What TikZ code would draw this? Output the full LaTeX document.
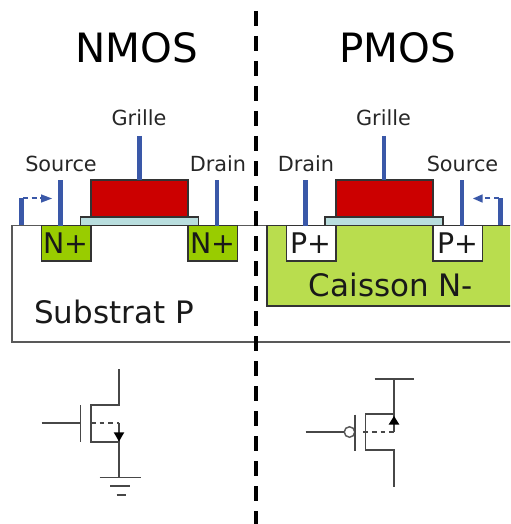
\documentclass[tikz,border=0pt]{standalone}
\usepackage{fontspec}
\setmainfont{DejaVu Sans}
\usetikzlibrary{arrows.meta}
\tikzset{
  x=0.75pt,y=-0.75pt,
  region/.style={draw=black!80,line width=0.8pt,inner sep=0pt,outer sep=0pt},
  bulk/.style={draw=black!65,line width=0.9pt},
  gatebox/.style={region,fill=gatered},
  oxide/.style={region,fill=oxidecol},
  dopedn/.style={region,fill=ngreen},
  dopedp/.style={region,fill=white},
  contact/.style={draw=contactblue,line width=3.7pt},
  flow/.style={draw=contactblue,line width=1.3pt,dash pattern=on 4pt off 2.5pt},
  headtip/.style={fill=contactblue,draw=none},
  termlabel/.style={text=black!85,font=\fontsize{15.6pt}{17pt}\selectfont,inner sep=0pt},
  dopelabel/.style={text=black!90,font=\fontsize{21.3pt}{23pt}\selectfont,inner sep=0pt},
  bulklabel/.style={text=black!90,font=\fontsize{23.2pt}{25pt}\selectfont,inner sep=0pt},
  titlelabel/.style={text=black,font=\fontsize{30.3pt}{32pt}\selectfont,inner sep=0pt},
  sym/.style={draw=black!72,line width=1.35pt},
  symdash/.style={draw=black!72,line width=1.35pt,dash pattern=on 3.6pt off 3pt},
  symtip/.style={fill=black,draw=none},
  divider/.style={draw=black,line width=3.3pt,dash pattern=on 11.25pt off 7.5pt}
}
\definecolor{gatered}{HTML}{CC0000}
\definecolor{oxidecol}{HTML}{B9DEDE}
\definecolor{ngreen}{HTML}{99CC00}
\definecolor{wellgreen}{HTML}{B9DD4E}
\definecolor{contactblue}{HTML}{3A58A8}
\begin{document}
\begin{tikzpicture}
\useasboundingbox (0,0) rectangle (510,524);
\clip (0,0) rectangle (510,524);
% titles
\node[titlelabel] (tn) at (137,48) {NMOS};
\node[titlelabel] (tp) at (397.5,48) {PMOS};
% substrate and well
\draw[bulk] (12,225.5) rectangle (530,342);
\draw[region,fill=wellgreen] (267,225.5) rectangle (530,306);
\node[bulklabel] (subtxt) at (114,312) {Substrat P};
\node[bulklabel] (caisson) at (391,285) {Caisson N-};
% NMOS device
\node[dopedn,minimum width=49.5*0.75pt,minimum height=35.5*0.75pt] (ns) at (66.25,243.25) {};
\node[dopedn,minimum width=49.5*0.75pt,minimum height=35.5*0.75pt] (nd) at (212.75,243.25) {};
\node[dopelabel] at (ns) {N+};
\node[dopelabel] at (nd) {N+};
\node[oxide,minimum width=118*0.75pt,minimum height=8.5*0.75pt] (nox) at (139.5,221.25) {};
\node[gatebox,minimum width=97*0.75pt,minimum height=37*0.75pt] (ng) at (139.5,198.5) {};
% PMOS device
\node[dopedp,minimum width=49.5*0.75pt,minimum height=35.5*0.75pt] (ps) at (457.75,243.25) {};
\node[dopedp,minimum width=49.5*0.75pt,minimum height=35.5*0.75pt] (pd) at (311.25,243.25) {};
\node[dopelabel] at (ps) {P+};
\node[dopelabel] at (pd) {P+};
\node[oxide,minimum width=118*0.75pt,minimum height=8.5*0.75pt] (pox) at (384,221.25) {};
\node[gatebox,minimum width=97*0.75pt,minimum height=37*0.75pt] (pg) at (384.5,198.5) {};
% terminal labels
\node[termlabel] (lgn) at (139,118) {Grille};
\node[termlabel] (lsn) at (61,164) {Source};
\node[termlabel] (ldn) at (218,164) {Drain};
\node[termlabel] (lgp) at (383.5,118) {Grille};
\node[termlabel] (ldp) at (306,164) {Drain};
\node[termlabel] (lsp) at (462.5,164) {Source};
% contacts
\coordinate (cgn) at (139.5,136);
\coordinate (csn) at (60.5,180);
\coordinate (cdn) at (217,180);
\coordinate (cgp) at (384,136);
\coordinate (cdp) at (305.5,180);
\coordinate (csp) at (462,180);
\draw[contact] (cgn) -- (ng.north -| cgn);
\draw[contact] (csn) -- (ns.north -| csn);
\draw[contact] (cdn) -- (nd.north -| cdn);
\draw[contact] (cgp) -- (pg.north -| cgp);
\draw[contact] (cdp) -- (pd.north -| cdp);
\draw[contact] (csp) -- (ps.north -| csp);
% body contacts with dashed flow
\coordinate (bn) at (21.5,225);
\coordinate (bnt) at (21.5,197.5);
\coordinate (bne) at (42,198);
\coordinate (bp) at (500.7,225);
\coordinate (bpt) at (500.7,197.5);
\coordinate (bpe) at (482,198);
\draw[contact] (bn) -- (bnt);
\draw[contact] (bp) -- (bpt);
\draw[flow] (23,198) -- (bne);
\draw[flow] (499,198) -- (bpe);
\fill[headtip] (52,198.5) -- (41,194.3) -- (41,202.7) -- cycle;
\fill[headtip] (473,198.5) -- (482.5,194.3) -- (482.5,202.7) -- cycle;
% NMOS symbol
\coordinate (nd0) at (119,369);
\coordinate (nd1) at (119,404.7);
\coordinate (nc1) at (90.7,404.7);
\coordinate (nc2) at (90.7,441.7);
\coordinate (ns1) at (119,441.7);
\coordinate (ns2) at (119,477.5);
\coordinate (nin) at (41.5,422.7);
\coordinate (ngt) at (80.5,422.7);
\coordinate (ngu) at (80.5,405);
\coordinate (ngd) at (80.5,442);
\coordinate (nb) at (119,422.7);
\draw[sym] (nd0) -- (nd1) -- (nc1) -- (nc2) -- (ns1) -- (ns2);
\draw[sym] (ngu) -- (ngd);
\draw[sym] (nin) -- (ngt);
\draw[symdash] (nc1 |- nb) -- (nb);
\draw[sym] (nb) -- (ns1);
\fill[symtip] (119,441.5) -- (113.7,432.3) -- (124.3,432.3) -- cycle;
\draw[sym] (99.5,477.5) -- (140.5,477.5);
\draw[sym] (110,486) -- (130,486);
\draw[sym] (116.5,495) -- (126,495);
% PMOS symbol
\coordinate (pt1) at (374.5,379);
\coordinate (pt2) at (414,379);
\coordinate (pv0) at (394,379);
\coordinate (pv1) at (394,414);
\coordinate (pc1) at (365.5,414);
\coordinate (pc2) at (365.5,450);
\coordinate (pv2) at (394,450);
\coordinate (pv3) at (394,486.5);
\coordinate (pgu) at (355,414.5);
\coordinate (pgd) at (355,450.5);
\coordinate (pin) at (305.5,432);
\coordinate (pb) at (394,432);
\node[draw=black!65,line width=1.1pt,circle,minimum size=10.5*0.75pt,inner sep=0pt,fill=white] (bub) at (349.5,432) {};
\draw[sym] (pt1) -- (pt2);
\draw[sym] (pv0) -- (pv1) -- (pc1) -- (pc2) -- (pv2) -- (pv3);
\draw[sym] (pgu) -- (pgd);
\draw[sym] (pin) -- (bub.west);
\draw[symdash] (363,432) -- (pb);
\draw[sym] (pb) -- (pv1);
\fill[symtip] (394,416) -- (388.7,424.5) -- (399.3,424.5) -- cycle;
% divider
\coordinate (dv0) at (256,11);
\coordinate (dv1) at (256,530);
\draw[divider] (dv0) -- (dv1);
\end{tikzpicture}
\end{document}
